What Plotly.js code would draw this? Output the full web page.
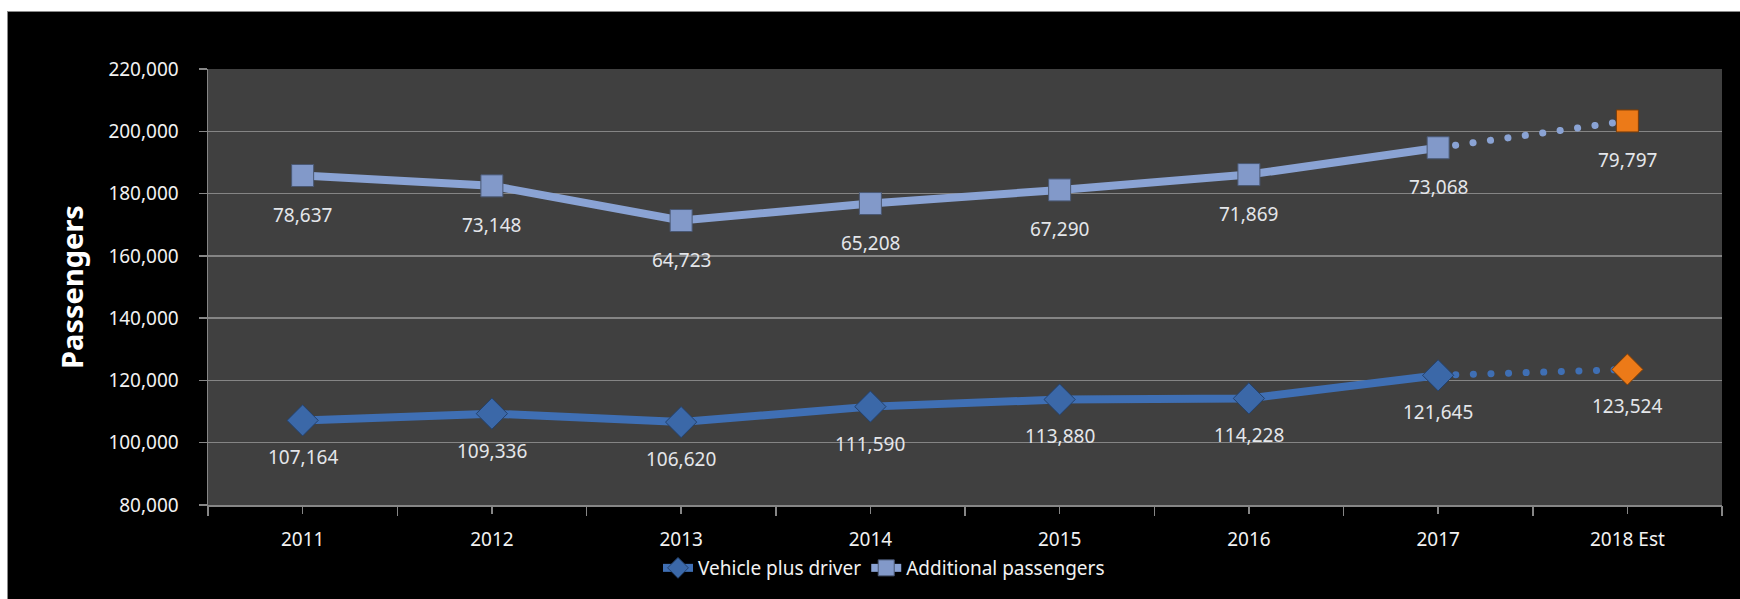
<!DOCTYPE html>
<html>
<head>
<meta charset="utf-8">
<script src="https://cdn.plot.ly/plotly-3.0.1.min.js"></script>
<style>
  html, body { margin: 0; padding: 0; background: #ffffff; width: 1740px; height: 599px; overflow: hidden; }
  #chart { position: absolute; left: 7px; top: 11px; width: 1732px; height: 587px; border-left: 1px solid #8a8a8a; border-top: 1px solid #8a8a8a; background: #000; }
</style>
</head>
<body>
<div id="chart"></div>
<script>
// ---- Data ----
const categories = ["2011", "2012", "2013", "2014", "2015", "2016", "2017", "2018 Est"];
const vehiclePlusDriver = [107164, 109336, 106620, 111590, 113880, 114228, 121645, 123524];
const additionalPassengers = [78637, 73148, 64723, 65208, 67290, 71869, 73068, 79797];
const seriesNames = ["Vehicle plus driver", "Additional passengers"];
const yTitle = "Passengers";

// stacked totals (stacked line chart)
const stackedTop = vehiclePlusDriver.map((v, i) => v + additionalPassengers[i]);

const nActual = 7; // 2011..2017 solid, 2018 Est dotted
const FONT = "Noto Sans, Open Sans, sans-serif";

const colV = "#3f6fb4", colVMarker = "#3b68a8";
const colA = "#8aa3d4", colAMarker = "#8299c9";
const colEst = "#ec7a18";

const fmt = n => n.toLocaleString("en-US");

const traces = [
  // invisible helper for boundary ticks
  { x: categories, y: vehiclePlusDriver, xaxis: "x2", yaxis: "y", mode: "lines", uid: "helper",
    line: { width: 0, color: "rgba(0,0,0,0)" }, opacity: 0, showlegend: false, hoverinfo: "skip" },
  // dotted estimate segments
  { x: categories.slice(nActual - 1), y: vehiclePlusDriver.slice(nActual - 1), mode: "lines", uid: "dotV",
    line: { color: colV, width: 7, dash: "6px,12px" }, showlegend: false, hoverinfo: "skip" },
  { x: categories.slice(nActual - 1), y: stackedTop.slice(nActual - 1), mode: "lines", uid: "dotA",
    line: { color: colA, width: 7, dash: "6px,12px" }, showlegend: false, hoverinfo: "skip" },
  // solid lines with markers
  { x: categories.slice(0, nActual), y: vehiclePlusDriver.slice(0, nActual), name: seriesNames[0], uid: "solidV",
    mode: "lines+markers", line: { color: colV, width: 8 },
    marker: { symbol: "diamond", size: 24, color: colVMarker, line: { color: "#24416b", width: 1 } } },
  { x: categories.slice(0, nActual), y: stackedTop.slice(0, nActual), name: seriesNames[1], uid: "solidA",
    mode: "lines+markers", line: { color: colA, width: 8 },
    marker: { symbol: "square", size: 22, color: colAMarker, line: { color: "#4a5874", width: 1 } } },
  // estimate markers (orange)
  { x: categories.slice(nActual), y: vehiclePlusDriver.slice(nActual), mode: "markers", uid: "estV",
    marker: { symbol: "diamond", size: 24, color: colEst, line: { color: "#7a3d08", width: 1 } },
    showlegend: false },
  { x: categories.slice(nActual), y: stackedTop.slice(nActual), mode: "markers", uid: "estA",
    marker: { symbol: "square", size: 22, color: colEst, line: { color: "#7a3d08", width: 1 } },
    showlegend: false }
];

// data labels (x given as category index so numeric-looking names are not read as numbers)
const annotations = [];
categories.forEach((c, i) => {
  annotations.push({ xref: "x", yref: "y", x: i, y: vehiclePlusDriver[i], text: fmt(vehiclePlusDriver[i]),
    showarrow: false, yshift: -37, font: { family: FONT, size: 19, color: "#e4e6ea" } });
  annotations.push({ xref: "x", yref: "y", x: i, y: stackedTop[i], text: fmt(additionalPassengers[i]),
    showarrow: false, yshift: -39, font: { family: FONT, size: 19, color: "#e4e6ea" } });
});

const layout = {
  width: 1732, height: 587,
  margin: { l: 200, r: 18, t: 57, b: 94 },
  paper_bgcolor: "#000000",
  plot_bgcolor: "#404040",
  font: { family: FONT, size: 19, color: "#f2f2f2" },
  showlegend: true,
  legend: { orientation: "h", x: 0.4465, xanchor: "center", y: -0.1445, yanchor: "middle",
    font: { family: FONT, size: 19, color: "#f2f2f2" }, bgcolor: "rgba(0,0,0,0)", traceorder: "normal" },
  xaxis: {
    type: "category", categoryorder: "array", categoryarray: categories, range: [-0.5, 7.5],
    showgrid: false, zeroline: false, showline: true, linecolor: "#868686", linewidth: 1.5,
    ticks: "outside", ticklen: 7, tickcolor: "#868686", tickwidth: 1.5,
    ticklabelstandoff: 10,
    tickfont: { family: FONT, size: 19, color: "#f2f2f2" }, fixedrange: true
  },
  xaxis2: {
    type: "category", categoryorder: "array", categoryarray: categories, range: [-0.5, 7.5],
    overlaying: "x", anchor: "y", side: "bottom", showgrid: false, zeroline: false, showline: false,
    tickson: "boundaries", ticks: "outside", ticklen: 10, tickcolor: "#868686", tickwidth: 1.5,
    showticklabels: false, fixedrange: true
  },
  yaxis: {
    range: [80000, 220000], dtick: 20000, tick0: 80000, tickformat: ",d",
    showgrid: true, gridcolor: "#858585", gridwidth: 1.5, zeroline: false,
    showline: true, linecolor: "#868686", linewidth: 1.5,
    ticks: "outside", ticklen: 8, tickcolor: "#868686", tickwidth: 1.5,
    ticklabelstandoff: 16,
    tickfont: { family: FONT, size: 19, color: "#f2f2f2" },
    title: { text: yTitle, standoff: 16, font: { family: FONT, size: 29, color: "#ffffff", weight: "bold" } },
    fixedrange: true
  },
  annotations: annotations
};

Plotly.newPlot("chart", traces, layout, { displayModeBar: false, staticPlot: true }).then(gd => {
  // round dots for the estimate segments only
  ["dotV", "dotA"].forEach(uid => {
    gd.querySelectorAll(".trace" + uid + " path.js-line").forEach(p => {
      p.style.strokeLinecap = "round";
      p.style.strokeDasharray = "0.1px,17.5px";
    });
  });
});
</script>
</body>
</html>
